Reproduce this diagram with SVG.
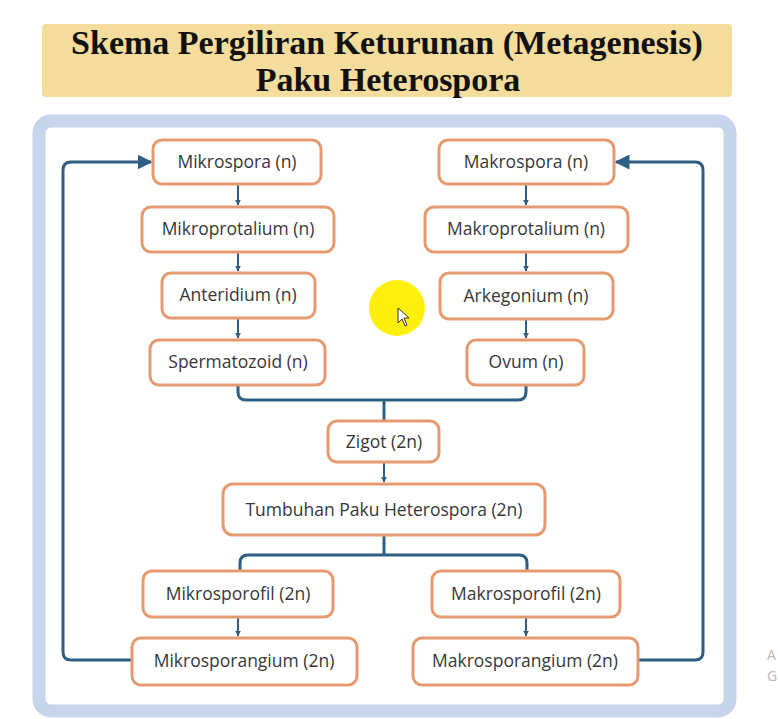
<svg xmlns="http://www.w3.org/2000/svg" width="778" height="719" viewBox="0 0 778 719">
<defs>
<style>
.box{fill:#ffffff;stroke:#e59a70;stroke-width:3}
.lbl{font-family:"Open Sans","Noto Sans",sans-serif;font-size:17.5px;fill:#383838;text-anchor:middle}
.ttl{font-family:"Liberation Serif","Times New Roman",serif;font-weight:bold;font-size:34px;fill:#111;text-anchor:middle}
.ln{fill:none;stroke:#2e5f82;stroke-width:3;stroke-linejoin:round}
.sm{fill:none;stroke:#2e5f82;stroke-width:2}
</style>
<marker id="big" viewBox="0 0 10 10" refX="9" refY="5" markerWidth="5" markerHeight="5" orient="auto" markerUnits="strokeWidth">
<path d="M0 0 L10 5 L0 10 Z" fill="#2e5f82"/>
</marker>
<marker id="small" viewBox="0 0 10 10" refX="9" refY="5" markerWidth="3" markerHeight="3" orient="auto" markerUnits="strokeWidth">
<path d="M0 0 L10 5 L0 10 Z" fill="#2e5f82"/>
</marker>
</defs>
<rect width="778" height="719" fill="#ffffff"/>
<g id="title">
<rect x="42" y="24" width="690" height="73" rx="4" fill="#f3dc9c"/>
<text class="ttl" x="387" y="54">Skema Pergiliran Keturunan (Metagenesis)</text>
<text class="ttl" x="388" y="91">Paku Heterospora</text>
</g>
<g id="frame">
<rect x="39" y="121" width="691" height="590" rx="12" fill="#ffffff" stroke="#c6d4ec" stroke-width="13"/>
</g>
<g id="connectors">
<path class="sm" d="M238 185 V205" marker-end="url(#small)"/>
<path class="sm" d="M238 252 V271" marker-end="url(#small)"/>
<path class="sm" d="M238 318 V338" marker-end="url(#small)"/>
<path class="sm" d="M526 184 V205" marker-end="url(#small)"/>
<path class="sm" d="M526 252 V271" marker-end="url(#small)"/>
<path class="sm" d="M526 319 V338" marker-end="url(#small)"/>
<path class="ln" d="M238 385 V392 Q238 400 246 400 H518 Q526 400 526 392 V385"/>
<path class="ln" d="M384 400 V421"/>
<path class="sm" d="M384 462 V482" marker-end="url(#small)"/>
<path class="ln" d="M384 535 V555"/>
<path class="ln" d="M240 571 V563 Q240 555 248 555 H519 Q527 555 527 563 V571"/>
<path class="sm" d="M238 617 V636" marker-end="url(#small)"/>
<path class="sm" d="M526 617 V636" marker-end="url(#small)"/>
<path class="ln" d="M132 660 H71 Q63 660 63 652 V170 Q63 162 71 162 H151" marker-end="url(#big)"/>
<path class="ln" d="M638 660 H695 Q703 660 703 652 V170 Q703 162 695 162 H616" marker-end="url(#big)"/>
</g>
<g id="mikrospora"><rect class="box" x="153" y="140" width="168" height="44" rx="9"/><text class="lbl" x="237" y="168">Mikrospora (n)</text></g>
<g id="mikroprotalium"><rect class="box" x="142" y="207" width="192" height="45" rx="9"/><text class="lbl" x="238" y="235">Mikroprotalium (n)</text></g>
<g id="anteridium"><rect class="box" x="162" y="273" width="153" height="45" rx="9"/><text class="lbl" x="238" y="301">Anteridium (n)</text></g>
<g id="spermatozoid"><rect class="box" x="150" y="340" width="175" height="45" rx="9"/><text class="lbl" x="238" y="368">Spermatozoid (n)</text></g>
<g id="makrospora"><rect class="box" x="439" y="140" width="175" height="44" rx="9"/><text class="lbl" x="526" y="168">Makrospora (n)</text></g>
<g id="makroprotalium"><rect class="box" x="425" y="207" width="203" height="45" rx="9"/><text class="lbl" x="526" y="235">Makroprotalium (n)</text></g>
<g id="arkegonium"><rect class="box" x="440" y="273" width="173" height="46" rx="9"/><text class="lbl" x="526" y="302">Arkegonium (n)</text></g>
<g id="ovum"><rect class="box" x="467" y="340" width="117" height="45" rx="9"/><text class="lbl" x="526" y="368">Ovum (n)</text></g>
<g id="zigot"><rect class="box" x="328" y="421" width="111" height="41" rx="9"/><text class="lbl" x="384" y="448">Zigot (2n)</text></g>
<g id="tumbuhan"><rect class="box" x="223" y="484" width="322" height="51" rx="10"/><text class="lbl" x="384" y="516">Tumbuhan Paku Heterospora (2n)</text></g>
<g id="mikrosporofil"><rect class="box" x="143" y="571" width="190" height="46" rx="9"/><text class="lbl" x="238" y="600">Mikrosporofil (2n)</text></g>
<g id="mikrosporangium"><rect class="box" x="132" y="638" width="225" height="47" rx="9"/><text class="lbl" x="244" y="667">Mikrosporangium (2n)</text></g>
<g id="makrosporofil"><rect class="box" x="432" y="571" width="188" height="46" rx="9"/><text class="lbl" x="526" y="600">Makrosporofil (2n)</text></g>
<g id="makrosporangium"><rect class="box" x="413" y="638" width="225" height="47" rx="9"/><text class="lbl" x="525" y="667">Makrosporangium (2n)</text></g>
<g id="cursor">
<circle cx="397" cy="308" r="28" fill="#ffee00" opacity="0.95"/>
<path d="M398 308 L398 323 L402 319 L405 326 L407 325 L404 318 L409 318 Z" fill="#ffffff" stroke="#333" stroke-width="1"/>
</g>
<g id="watermark">
<text x="767" y="660" font-family="Open Sans, sans-serif" font-size="14" fill="#b8b8b8">A</text>
<text x="767" y="681" font-family="Open Sans, sans-serif" font-size="14" fill="#b8b8b8">G</text>
</g>
</svg>
